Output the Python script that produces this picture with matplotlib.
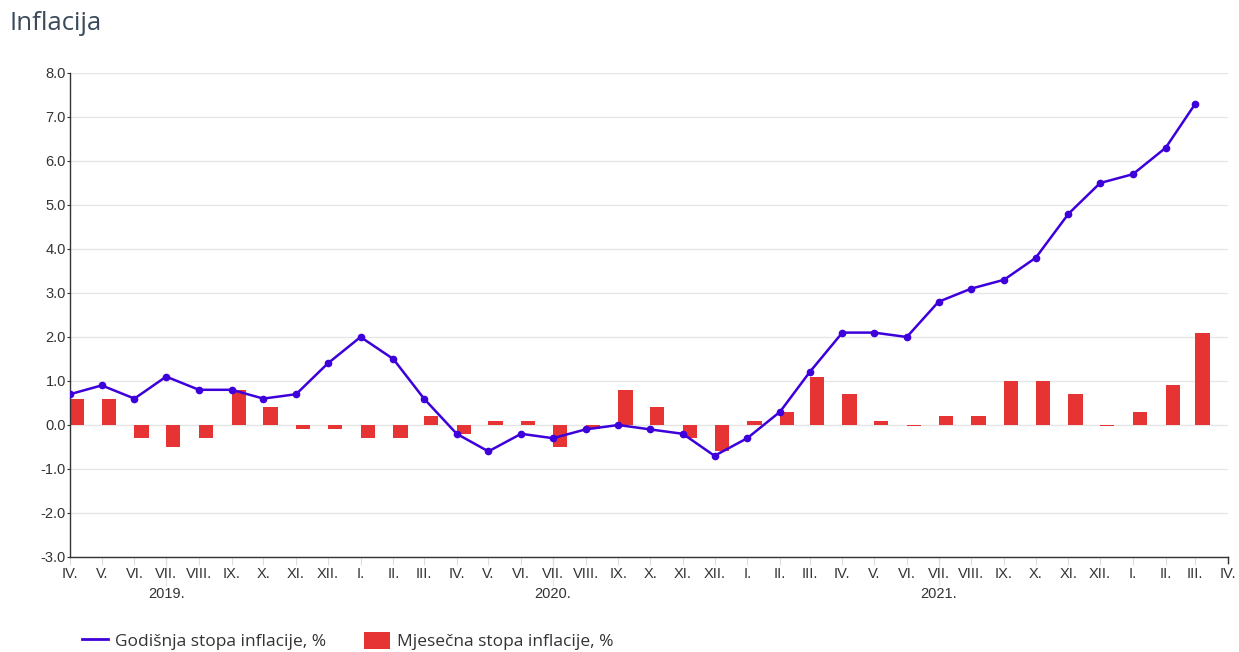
import matplotlib
matplotlib.use("Agg")
import matplotlib.pyplot as plt
import matplotlib.dates as mdates
import pandas as pd
import numpy as np
from matplotlib.lines import Line2D
from matplotlib.patches import Patch

# ---- data ----
start_month = "2019-04-01"
annual_rate = [0.7, 0.9, 0.6, 1.1, 0.8, 0.8, 0.6, 0.7, 1.4,
               2.0, 1.5, 0.6, -0.2, -0.6, -0.2, -0.3, -0.1, 0.0, -0.1, -0.2, -0.7,
               -0.3, 0.3, 1.2, 2.1, 2.1, 2.0, 2.8, 3.1, 3.3, 3.8, 4.8, 5.5,
               5.7, 6.3, 7.3]
monthly_rate = [0.6, 0.6, -0.3, -0.5, -0.3, 0.8, 0.4, -0.1, -0.1,
                -0.3, -0.3, 0.2, -0.2, 0.1, 0.1, -0.5, -0.1, 0.8, 0.4, -0.3, -0.6,
                0.1, 0.3, 1.1, 0.7, 0.1, -0.02, 0.2, 0.2, 1.0, 1.0, 0.7, -0.02,
                0.3, 0.9, 2.1]
roman = ["I.", "II.", "III.", "IV.", "V.", "VI.", "VII.", "VIII.", "IX.", "X.", "XI.", "XII."]
years = ["2019.", "2020.", "2021."]
legend_labels = ["Godišnja stopa inflacije, %", "Mjesečna stopa inflacije, %"]
title = "Inflacija"

line_color = "#3D00DB"
bar_color = "#E63334"

dates = pd.date_range(start_month, periods=len(annual_rate), freq="MS")
tick_dates = pd.date_range(start_month, periods=len(annual_rate) + 1, freq="MS")

fig = plt.figure(figsize=(12.39, 6.52), dpi=100)
W, H = 1239, 652
ax = fig.add_axes([70 / W, (H - 557) / H, (1228 - 70) / W, (557 - 73) / H])

ax.bar(dates, monthly_rate, width=13.5, align="edge", color=bar_color, zorder=2)
ax.plot(dates, annual_rate, color=line_color, lw=1.8, marker="o", ms=4.5, zorder=3)

ax.set_xlim(tick_dates[0], tick_dates[-1])
ax.set_ylim(-3, 8)
ax.set_yticks(np.arange(-3, 9, 1))
ax.set_yticklabels([f"{v:.1f}" for v in np.arange(-3, 9, 1)])
ax.grid(axis="y", color="#e6e6e6", lw=1, zorder=0)
ax.set_axisbelow(True)

for s in ["top", "right"]:
    ax.spines[s].set_visible(False)
ax.spines["left"].set_color("#333333")
ax.spines["bottom"].set_color("#333333")
ax.spines["left"].set_linewidth(1)
ax.spines["bottom"].set_linewidth(1)

ax.set_xticks(tick_dates)
ax.set_xticklabels([roman[d.month - 1] for d in tick_dates])
ax.tick_params(axis="x", length=6, color="#dddddd", pad=1, labelsize=10.5, labelcolor="#333333")
ax.tick_params(axis="y", length=2, color="#333333", pad=1, labelsize=10.5, labelcolor="#333333")
for lbl in ax.get_xticklabels() + ax.get_yticklabels():
    lbl.set_fontfamily("Liberation Sans")

# right end tick
ax.plot([tick_dates[-1], tick_dates[-1]], [0, -0.012], transform=ax.get_xaxis_transform(),
        color="#333333", lw=1, clip_on=False)

# year labels at July with longer light ticks
for i, y in enumerate(years):
    d = pd.Timestamp(f"{2019 + i}-07-01")
    ax.plot([d, d], [0, -0.058], transform=ax.get_xaxis_transform(), color="#e6e6e6",
            lw=1, clip_on=False, zorder=0)
    ax.text(d, -0.063, y, transform=ax.get_xaxis_transform(), ha="center", va="top",
            fontsize=10.5, color="#333333", fontfamily="Liberation Sans")

fig.text(10 / W, 1 - 23 / H, title, ha="left", va="center", fontsize=18.5,
         color="#3b4a5a", fontfamily="Open Sans")

handles = [Line2D([0], [0], color=line_color, lw=2),
           Patch(facecolor=bar_color)]
leg = fig.legend(handles, legend_labels, loc="center left",
                 bbox_to_anchor=(66 / W, 1 - 641 / H), ncol=2, frameon=False,
                 prop={"family": "Open Sans", "size": 12.5}, handlelength=1.5,
                 handleheight=1.1, columnspacing=2.2, handletextpad=0.4)
for t in leg.get_texts():
    t.set_color("#333333")

fig.savefig("out.png", dpi=100)
